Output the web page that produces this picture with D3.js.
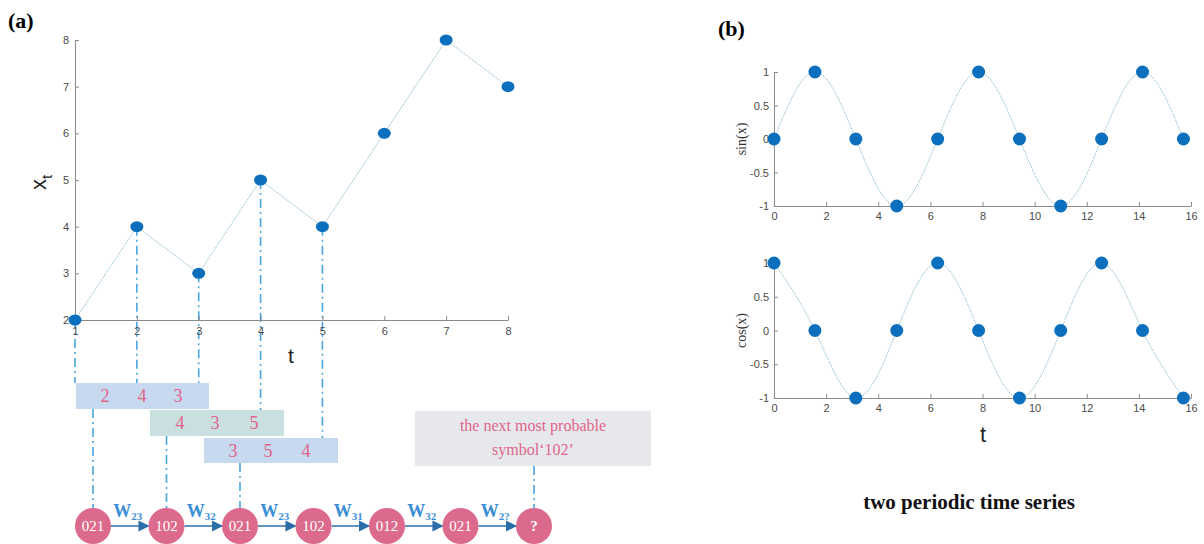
<!DOCTYPE html>
<html>
<head>
<meta charset="utf-8">
<script src="https://d3js.org/d3.v7.min.js"></script>
<style>
  body { margin: 0; background: #fff; }
  .tick text { font-family: "Liberation Sans", Arial, sans-serif; font-size: 11px; fill: #4a4a4a; }
  .axis path, .axis line { stroke: #8a8a8a; }
</style>
</head>
<body>
<div id="chart"></div>
<script>
// ---- panel (a) data ----
var tValues = [1, 2, 3, 4, 5, 6, 7, 8];
var xtValues = [2, 4, 3, 5, 4, 6, 8, 7];
var windows = [[2, 4, 3], [4, 3, 5], [3, 5, 4]];
var symbols = ["021", "102", "021", "102", "012", "021", "?"];
var weights = ["23", "32", "23", "31", "32", "2?"];
var nextText = ["the next most probable", "symbol\u2018102\u2019"];

// ---- panel (b) data ----
var sampleX = [0, 1.57, 3.14, 4.71, 6.28, 7.85, 9.42, 11.0, 12.57, 14.14, 15.71];
var sinValues = [0, 1, 0, -1, 0, 1, 0, -1, 0, 1, 0];
var cosValues = [1, 0, -1, 0, 1, 0, -1, 0, 1, 0, -1];
var xTicksB = [0, 2, 4, 6, 8, 10, 12, 14, 16];
var yTicksB = [-1, -0.5, 0, 0.5, 1];

var W = 1204, H = 544;
var svg = d3.select("#chart").append("svg").attr("width", W).attr("height", H);

var blue = "#0b6fbd", lineCol = "#8fbfd2", dashCol = "#4aa6e0", pink = "#e0648c";
var serif = "'Liberation Serif', 'DejaVu Serif', serif";
var sans = "'Liberation Sans', Arial, sans-serif";

// ================= panel (a) =================
svg.append("text").attr("x", 8).attr("y", 28).text("(a)")
  .style("font-family", serif).style("font-weight", "bold").style("font-size", "22px");

var xA = d3.scaleLinear().domain([1, 8]).range([75, 508]);
var yA = d3.scaleLinear().domain([2, 8]).range([320, 40]);

// dash-dot drop lines from points t=1..5 to the window boxes
var boxes = [
  {x: 76, y: 383, w: 133, h: 26, fill: "#c6d9ee", tx: [105, 142, 178]},
  {x: 150, y: 410, w: 134, h: 26, fill: "#c9dfe0", tx: [180, 215, 254]},
  {x: 204, y: 438, w: 134, h: 25, fill: "#c6d9ee", tx: [233, 268, 306]}
];
var dropTo = [0, 0, 0, 1, 2]; // which box each of the first five points drops to
var dashArr = "9,4,2,4";
dropTo.forEach(function (b, i) {
  svg.append("line")
    .attr("x1", xA(tValues[i])).attr("x2", xA(tValues[i]))
    .attr("y1", yA(xtValues[i])).attr("y2", boxes[b].y)
    .attr("stroke", dashCol).attr("stroke-width", 1.6).attr("stroke-dasharray", dashArr);
});

var axA = svg.append("g").attr("class", "axis").attr("transform", "translate(0," + yA(2) + ")")
  .call(d3.axisBottom(xA).tickValues(tValues).tickFormat(d3.format("d"))
    .tickSizeInner(-4).tickSizeOuter(0).tickPadding(7));
var ayA = svg.append("g").attr("class", "axis").attr("transform", "translate(" + xA(1) + ",0)")
  .call(d3.axisLeft(yA).ticks(6).tickFormat(d3.format("d")).tickSizeInner(-4).tickSizeOuter(0).tickPadding(6));
axA.selectAll(".tick text").style("font-size", "11px");
ayA.selectAll(".tick text").style("font-size", "11px");

svg.append("text").attr("x", 291).attr("y", 363).attr("text-anchor", "middle").text("t")
  .style("font-family", sans).style("font-size", "21px").attr("fill", "#222");
var xl = svg.append("text").attr("transform", "translate(46,190) rotate(-90)")
  .style("font-family", sans).style("font-size", "22px").attr("fill", "#222");
xl.append("tspan").text("x");
xl.append("tspan").attr("dy", 6).style("font-size", "15px").text("t");

var lineA = d3.line().x(function (d, i) { return xA(tValues[i]); }).y(function (d) { return yA(d); });
svg.append("path").datum(xtValues).attr("d", lineA).attr("fill", "none")
  .attr("stroke", lineCol).attr("stroke-width", 1).attr("stroke-dasharray", "1.5,1");
svg.selectAll(".ptA").data(xtValues).enter().append("ellipse")
  .attr("cx", function (d, i) { return xA(tValues[i]); }).attr("cy", function (d) { return yA(d); })
  .attr("rx", 6.5).attr("ry", 5.5).attr("fill", blue);

// symbol chain
var xS = d3.scalePoint().domain(d3.range(symbols.length)).range([93, 534]);
var cy = 526, r = 18;

// window boxes
boxes.forEach(function (b, i) {
  svg.append("rect").attr("x", b.x).attr("y", b.y).attr("width", b.w).attr("height", b.h).attr("fill", b.fill);
  windows[i].forEach(function (v, j) {
    svg.append("text").attr("x", b.tx[j]).attr("y", b.y + b.h / 2 + 6).attr("text-anchor", "middle")
      .text(v).style("font-family", serif).style("font-size", "18px").attr("fill", pink);
  });
  svg.append("line").attr("x1", xS(i)).attr("x2", xS(i)).attr("y1", b.y + b.h).attr("y2", cy - r)
    .attr("stroke", dashCol).attr("stroke-width", 1.6).attr("stroke-dasharray", dashArr);
});

// prediction box
svg.append("rect").attr("x", 415).attr("y", 411).attr("width", 236).attr("height", 55).attr("fill", "#e7e8eb");
nextText.forEach(function (s, i) {
  svg.append("text").attr("x", 533).attr("y", 431 + i * 24).attr("text-anchor", "middle").text(s)
    .style("font-family", serif).style("font-size", "16px").attr("fill", pink);
});
svg.append("line").attr("x1", xS(6)).attr("x2", xS(6)).attr("y1", 466).attr("y2", cy - r)
  .attr("stroke", dashCol).attr("stroke-width", 1.6).attr("stroke-dasharray", dashArr);

// arrows
svg.append("defs").append("marker").attr("id", "arr").attr("viewBox", "0 0 10 10")
  .attr("refX", 9).attr("refY", 5).attr("markerWidth", 7).attr("markerHeight", 7)
  .attr("orient", "auto").append("path").attr("d", "M0,0L10,5L0,10z").attr("fill", "#2b6ea8");
weights.forEach(function (w, i) {
  var x1 = xS(i) + r, x2 = xS(i + 1) - r;
  svg.append("line").attr("x1", x1).attr("x2", x2).attr("y1", cy).attr("y2", cy)
    .attr("stroke", "#2b6ea8").attr("stroke-width", 1.6).attr("marker-end", "url(#arr)");
  var lab = svg.append("text").attr("x", (x1 + x2) / 2 - 2).attr("y", cy - 9).attr("text-anchor", "middle")
    .style("font-family", serif).style("font-weight", "bold").attr("fill", "#3b8fd6");
  lab.append("tspan").style("font-size", "18px").text("W");
  lab.append("tspan").attr("dy", 3).style("font-size", "11px").text(w);
});

svg.selectAll(".sym").data(symbols).enter().append("ellipse")
  .attr("cx", function (d, i) { return xS(i); }).attr("cy", cy).attr("rx", r).attr("ry", r)
  .attr("fill", "#dc6a8c");
svg.selectAll(".symt").data(symbols).enter().append("text")
  .attr("x", function (d, i) { return xS(i); }).attr("y", cy + 5).attr("text-anchor", "middle")
  .text(function (d) { return d; }).style("font-family", serif).style("font-size", "15px")
  .style("font-weight", function (d) { return d === "?" ? "bold" : "normal"; }).attr("fill", "#fff");

// ================= panel (b) =================
svg.append("text").attr("x", 718).attr("y", 36).text("(b)")
  .style("font-family", serif).style("font-weight", "bold").style("font-size", "22px");

var xB = d3.scaleLinear().domain([0, 16]).range([774, 1191]);

function subplot(values, top, bottom, label) {
  var y = d3.scaleLinear().domain([-1, 1]).range([bottom, top]);
  var g = svg.append("g");
  g.append("g").attr("class", "axis").attr("transform", "translate(0," + bottom + ")")
    .call(d3.axisBottom(xB).tickValues(xTicksB).tickSizeInner(-4).tickSizeOuter(0).tickPadding(6));
  g.append("g").attr("class", "axis").attr("transform", "translate(" + xB(0) + ",0)")
    .call(d3.axisLeft(y).tickValues(yTicksB).tickFormat(function (d) { return String(d); })
      .tickSizeInner(-4).tickSizeOuter(0).tickPadding(5));
  g.selectAll(".tick text").style("font-size", "11px");
  var line = d3.line().x(function (d, i) { return xB(sampleX[i]); }).y(function (d) { return y(d); })
    .curve(d3.curveNatural);
  g.append("path").datum(values).attr("d", line).attr("fill", "none")
    .attr("stroke", lineCol).attr("stroke-width", 1).attr("stroke-dasharray", "1.5,1");
  g.selectAll(".pt").data(values).enter().append("circle")
    .attr("cx", function (d, i) { return xB(sampleX[i]); }).attr("cy", function (d) { return y(d); })
    .attr("r", 6.5).attr("fill", blue);
  g.append("text").attr("transform", "translate(746," + ((top + bottom) / 2) + ") rotate(-90)")
    .attr("text-anchor", "middle").text(label)
    .style("font-family", serif).style("font-size", "14px").attr("fill", "#333");
}
subplot(sinValues, 72, 206, "sin(x)");
subplot(cosValues, 263, 398, "cos(x)");

svg.append("text").attr("x", 983).attr("y", 442).attr("text-anchor", "middle").text("t")
  .style("font-family", sans).style("font-size", "22px").attr("fill", "#222");
svg.append("text").attr("x", 969).attr("y", 509).attr("text-anchor", "middle").text("two periodic time series")
  .style("font-family", serif).style("font-weight", "bold").style("font-size", "21px").attr("fill", "#111");
</script>
</body>
</html>
